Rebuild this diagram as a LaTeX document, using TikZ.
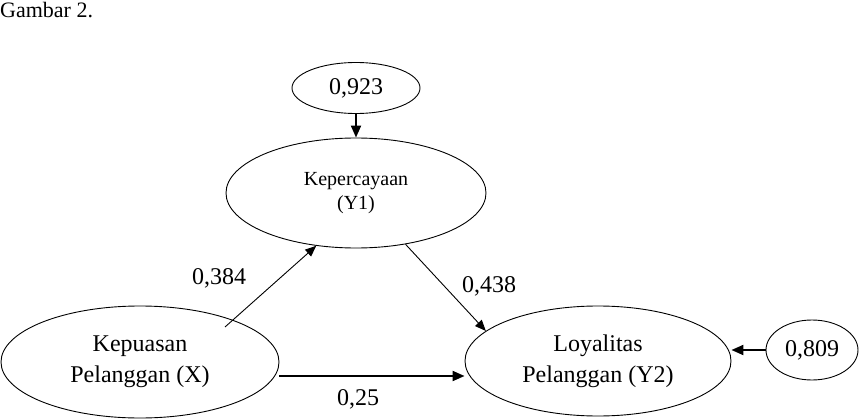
\documentclass[tikz,border=0pt]{standalone}
\usepackage{fontspec}
\setmainfont{Liberation Serif}
\usetikzlibrary{shapes.geometric,arrows.meta,calc}
\begin{document}
\begin{tikzpicture}[x=1pt,y=-1pt,
  ell/.style={draw,ellipse,inner sep=0pt,line width=0.9pt},
  big/.style={font=\fontsize{24}{31}\selectfont},
  mid/.style={font=\fontsize{20}{24}\selectfont},
  lbl/.style={big,inner sep=0pt},
  arr/.style={-{Triangle[length=11pt,width=9pt]},line width=0.9pt},
  arrT/.style={-{Triangle[length=12pt,width=10pt]},line width=2pt}]
\useasboundingbox (0,0) rectangle (860,420);
\node[anchor=base west,inner sep=0pt,font=\fontsize{22}{26}\selectfont] (title) at (0,18) {Gambar 2.};
\node[ell,big,minimum width=128pt,minimum height=51pt] (e923) at (356,88) {0,923};
\node[ell,mid,align=center,minimum width=260pt,minimum height=110pt] (kp) at (356,193) {Kepercayaan\\(Y1)};
\node[ell,big,align=center,minimum width=278pt,minimum height=112pt] (kx) at (140,362) {Kepuasan\\Pelanggan (X)};
\node[ell,big,align=center,minimum width=266pt,minimum height=110pt] (loy) at (598,361) {Loyalitas\\Pelanggan (Y2)};
\node[ell,big,minimum width=92pt,minimum height=60pt] (e809) at (812,350) {0,809};
\node[lbl] (l1) at (219,278) {0,384};
\node[lbl] (l2) at (489,286) {0,438};
\node[lbl] (l3) at (358,399) {0,25};
\draw[arr] ([shift={(85,-35)}]kx.center) -- (kp.233);
\draw[arr] (kp.314) -- (loy.165);
\draw[arrT] ([yshift=-14pt]kx.east) -- ([yshift=-15pt]loy.west);
\draw[arrT] (e809.west) -- (loy.east |- e809.west);
\draw[arrT] (e923.south) -- (kp.north);
\end{tikzpicture}
\end{document}
